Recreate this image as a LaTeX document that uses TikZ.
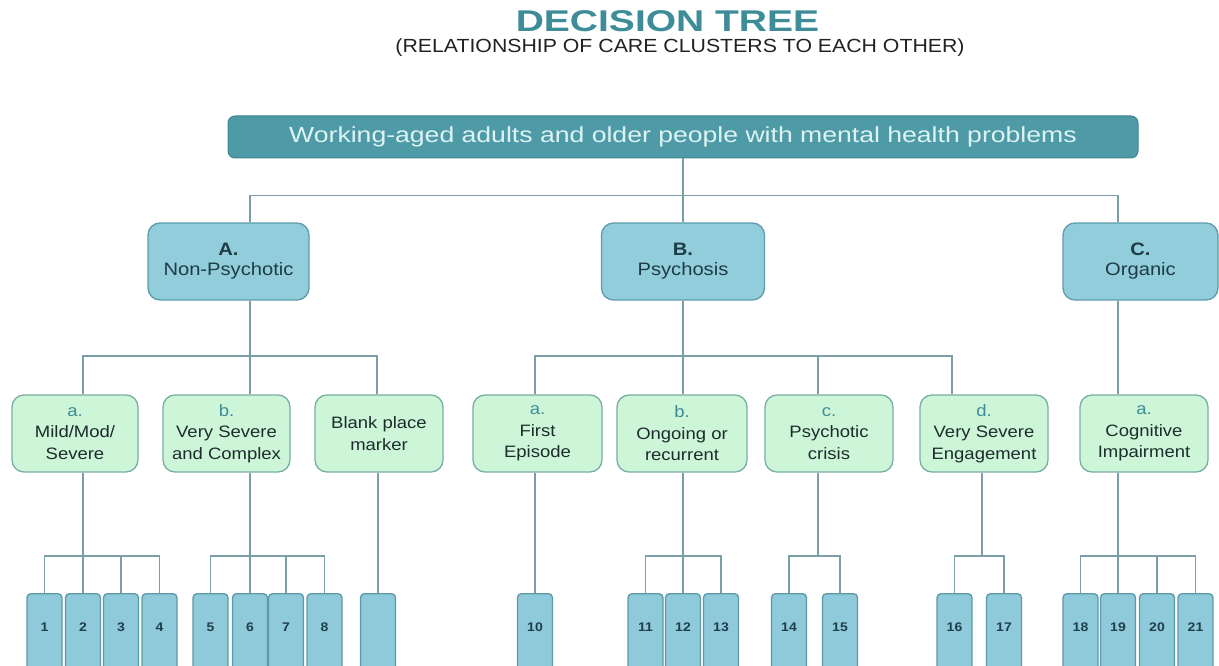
\documentclass[tikz,border=0pt]{standalone}
\usepackage{fontspec}
\setmainfont[FakeStretch=1.12]{Liberation Sans}
\newfontfamily\titlefont[FakeStretch=1.3]{Liberation Sans}
\newfontfamily\rootfont[FakeStretch=1.22]{Liberation Sans}
\definecolor{titlec}{HTML}{3D8C97}
\definecolor{subtitlec}{HTML}{222222}
\definecolor{rootf}{HTML}{4E9BA7}
\definecolor{rootd}{HTML}{3F8490}
\definecolor{roott}{HTML}{DDF3F3}
\definecolor{catf}{HTML}{92CDDC}
\definecolor{catd}{HTML}{5C9CAB}
\definecolor{catt}{HTML}{1E3C44}
\definecolor{subf}{HTML}{CDF5D8}
\definecolor{subd}{HTML}{79AEA4}
\definecolor{subt}{HTML}{1C2C2C}
\definecolor{letc}{HTML}{3D8C97}
\definecolor{leaff}{HTML}{8ECADA}
\definecolor{leafd}{HTML}{5D98A6}
\definecolor{leaft}{HTML}{1F3F4A}
\definecolor{linec}{HTML}{7A9EA6}
\begin{document}
\begin{tikzpicture}[x=1pt,y=-1pt,
  conn/.style={draw=linec, line width=1.9pt},
  rootbox/.style={draw=rootd, fill=rootf, line width=1pt, rounded corners=7pt,
    minimum width=910pt, minimum height=42pt, inner sep=0pt, text=roott,
    font=\rootfont\fontsize{21.8}{26}\selectfont},
  catbox/.style={draw=catd, fill=catf, line width=1.3pt, rounded corners=12pt,
    minimum height=77pt, inner sep=0pt, align=center, text=catt,
    font=\fontsize{18}{20}\selectfont},
  subbox/.style={draw=subd, fill=subf, line width=1.3pt, rounded corners=12pt,
    minimum width=128pt, minimum height=77pt, inner sep=0pt, align=center, text=subt,
    font=\fontsize{16.5}{21.5}\selectfont},
  leaf/.style={draw=leafd, fill=leaff, line width=1.3pt, rounded corners=4pt,
    minimum width=35pt, minimum height=140pt, inner sep=0pt, anchor=north},
  num/.style={anchor=center, yshift=-34pt, text=leaft, font=\bfseries\fontsize{12.5}{14}\selectfont},
]
\useasboundingbox (0,0) rectangle (1219,666);
\clip (0,0) rectangle (1219,666);

% titles
\node[anchor=base, text=titlec, font=\titlefont\bfseries\fontsize{30}{34}\selectfont] (title) at (667.5,32) {DECISION TREE};
\node[anchor=base, text=subtitlec, font=\fontsize{19}{22}\selectfont] (subtitle) at (680,53) {(RELATIONSHIP OF CARE CLUSTERS TO EACH OTHER)};

% root
\node[rootbox] (root) at (683,137) {Working-aged adults and older people with mental health problems};

% categories
\node[catbox, minimum width=161pt] (A) at (228.5,261.5) {\textbf{A.}\\Non-Psychotic};
\node[catbox, minimum width=163pt] (B) at (683,261.5) {\textbf{B.}\\Psychosis};
\node[catbox, minimum width=155pt] (C) at (1140.5,261.5) {\textbf{C.}\\Organic};

% sub clusters
\node[subbox, minimum width=126pt] (Aa) at (75,433.5) {{\color{letc}a.}\\Mild/Mod/\\Severe};
\node[subbox, minimum width=127pt] (Ab) at (226.5,433.5) {{\color{letc}b.}\\Very Severe\\and Complex};
\node[subbox] (Ac) at (379,433.5) {Blank place\\marker};
\node[subbox, minimum width=129pt] (Ba) at (537.5,433.5) {{\color{letc}a.}\\First\\Episode};
\node[subbox, minimum width=130pt] (Bb) at (682,433.5) {{\color{letc}b.}\\Ongoing or\\recurrent};
\node[subbox] (Bc) at (829,433.5) {{\color{letc}c.}\\Psychotic\\crisis};
\node[subbox] (Bd) at (984,433.5) {{\color{letc}d.}\\Very Severe\\Engagement};
\node[subbox] (Ca) at (1144,433.5) {{\color{letc}a.}\\Cognitive\\Impairment};

% leaves
\node[leaf, label={[num]north:1}] (l1) at (44.5,593) {};
\node[leaf, label={[num]north:2}] (l2) at (83,593) {};
\node[leaf, label={[num]north:3}] (l3) at (121,593) {};
\node[leaf, label={[num]north:4}] (l4) at (159.5,593) {};
\node[leaf, label={[num]north:5}] (l5) at (210.5,593) {};
\node[leaf, label={[num]north:6}] (l6) at (250,593) {};
\node[leaf, label={[num]north:7}] (l7) at (286,593) {};
\node[leaf, label={[num]north:8}] (l8) at (324.5,593) {};
\node[leaf] (l9) at (378,593) {};
\node[leaf, label={[num]north:10}] (l10) at (535,593) {};
\node[leaf, label={[num]north:11}] (l11) at (645.5,593) {};
\node[leaf, label={[num]north:12}] (l12) at (683,593) {};
\node[leaf, label={[num]north:13}] (l13) at (721,593) {};
\node[leaf, label={[num]north:14}] (l14) at (789,593) {};
\node[leaf, label={[num]north:15}] (l15) at (840,593) {};
\node[leaf, label={[num]north:16}] (l16) at (954.5,593) {};
\node[leaf, label={[num]north:17}] (l17) at (1004,593) {};
\node[leaf, label={[num]north:18}] (l18) at (1080.5,593) {};
\node[leaf, label={[num]north:19}] (l19) at (1118,593) {};
\node[leaf, label={[num]north:20}] (l20) at (1157,593) {};
\node[leaf, label={[num]north:21}] (l21) at (1195.5,593) {};

% connectors: root -> categories
\draw[conn] (root.south) -- ++(0,37) -| ([xshift=21.5pt]A.north);
\draw[conn] (root.south) -- ++(0,37) -| ([xshift=-22.5pt]C.north);
\draw[conn] (root.south) -- (B.north);

% A -> subs
\draw[conn] ([xshift=21.5pt]A.south) -- ++(0,55) -| ([xshift=8pt]Aa.north);
\draw[conn] ([xshift=21.5pt]A.south) -- ([xshift=23.5pt]Ab.north);
\draw[conn] ([xshift=21.5pt]A.south) -- ++(0,55) -| ([xshift=-2pt]Ac.north);
% B -> subs
\draw[conn] (B.south) -- ++(0,55) -| ([xshift=-2.5pt]Ba.north);
\draw[conn] (B.south) -- ([xshift=1pt]Bb.north);
\draw[conn] (B.south) -- ++(0,55) -| ([xshift=-11pt]Bc.north);
\draw[conn] (B.south) -- ++(0,55) -| ([xshift=-32pt]Bd.north);
% C -> sub
\draw[conn] ([xshift=-22.5pt]C.south) -- ([xshift=-26pt]Ca.north);

% subs -> leaves
\draw[conn] ([xshift=8pt]Aa.south) -- ++(0,83) -| (l1.north);
\draw[conn] ([xshift=8pt]Aa.south) -- (l2.north);
\draw[conn] ([xshift=8pt]Aa.south) -- ++(0,83) -| (l3.north);
\draw[conn] ([xshift=8pt]Aa.south) -- ++(0,83) -| (l4.north);

\draw[conn] ([xshift=23.5pt]Ab.south) -- ++(0,83) -| (l5.north);
\draw[conn] ([xshift=23.5pt]Ab.south) -- (l6.north);
\draw[conn] ([xshift=23.5pt]Ab.south) -- ++(0,83) -| (l7.north);
\draw[conn] ([xshift=23.5pt]Ab.south) -- ++(0,83) -| (l8.north);

\draw[conn] ([xshift=-1pt]Ac.south) -- (l9.north);
\draw[conn] ([xshift=-2.5pt]Ba.south) -- (l10.north);

\draw[conn] ([xshift=1pt]Bb.south) -- ++(0,83) -| (l11.north);
\draw[conn] ([xshift=1pt]Bb.south) -- (l12.north);
\draw[conn] ([xshift=1pt]Bb.south) -- ++(0,83) -| (l13.north);

\draw[conn] ([xshift=-11pt]Bc.south) -- ++(0,83) -| (l14.north);
\draw[conn] ([xshift=-11pt]Bc.south) -- ++(0,83) -| (l15.north);

\draw[conn] ([xshift=-2pt]Bd.south) -- ++(0,83) -| (l16.north);
\draw[conn] ([xshift=-2pt]Bd.south) -- ++(0,83) -| (l17.north);

\draw[conn] ([xshift=-26pt]Ca.south) -- ++(0,83) -| (l18.north);
\draw[conn] ([xshift=-26pt]Ca.south) -- (l19.north);
\draw[conn] ([xshift=-26pt]Ca.south) -- ++(0,83) -| (l20.north);
\draw[conn] ([xshift=-26pt]Ca.south) -- ++(0,83) -| (l21.north);
\end{tikzpicture}
\end{document}
